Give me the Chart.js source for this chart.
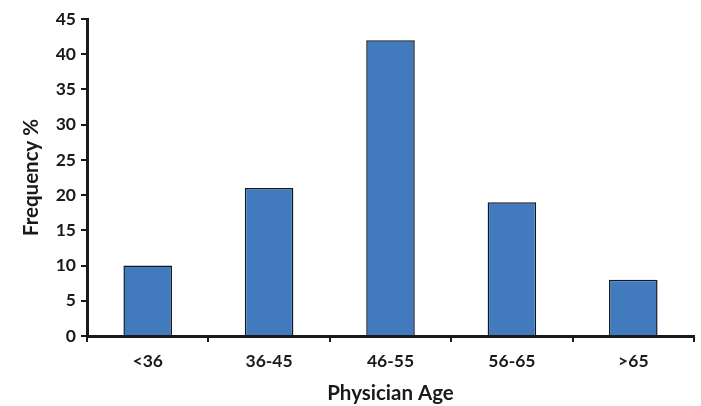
<!DOCTYPE html>
<html>
<head>
<meta charset="utf-8">
<script src="https://cdn.jsdelivr.net/npm/chart.js@4"></script>
<style>
  html, body { margin: 0; padding: 0; background: #fff; }
  #wrap { width: 701px; height: 406px; }
</style>
</head>
<body>
<div id="wrap"><canvas id="myChart"></canvas></div>
<script>
// categories and values
const ageGroups = ["<36", "36-45", "46-55", "56-65", ">65"];
const frequency = [10, 21, 42, 19, 8];
const yTicks = [0, 5, 10, 15, 20, 25, 30, 35, 40, 45];

// Lato is the closest installed font to the Calibri used in the original
const fontFamily = "Lato, 'Open Sans', sans-serif";

const ctx = document.getElementById("myChart");
const myChart = new Chart(ctx, {
	type: "bar",
	data: {
		labels: ageGroups,
		datasets: [
			{
				data: frequency,
				backgroundColor: "#417bbd",
				borderColor: "#111827",
				borderWidth: 1.5,
				barPercentage: 0.4,
				categoryPercentage: 1,
			},
		],
	},
	options: {
		responsive: true,
		maintainAspectRatio: false,
		animation: false,
		layout: {
			padding: { top: 19, right: 7, left: 19, bottom: 0 },
		},
		scales: {
			x: {
				grid: {
					offset: true,
					drawOnChartArea: false,
					drawTicks: true,
					tickLength: 6,
					color: "#1a1a1a",
					lineWidth: 2,
				},
				border: { display: true, color: "#1a1a1a", width: 3 },
				ticks: {
					color: "#1a1a1a",
					padding: 9,
					font: { family: fontFamily, size: 17.5, weight: "bold" },
				},
				title: {
					display: true,
					text: "Physician Age",
					color: "#1a1a1a",
					padding: { top: 6, bottom: 0 },
					font: { family: fontFamily, size: 20.5, weight: "bold" },
				},
				afterFit: (scale) => { scale.height = 70; },
			},
			y: {
				min: 0,
				max: 45,
				afterBuildTicks: (scale) => {
					scale.ticks = yTicks.map((v) => ({ value: v }));
				},
				grid: {
					drawOnChartArea: false,
					drawTicks: true,
					tickLength: 6,
					color: "#1a1a1a",
					lineWidth: 2,
				},
				border: { display: true, color: "#1a1a1a", width: 3 },
				ticks: {
					color: "#1a1a1a",
					padding: 5,
					font: { family: fontFamily, size: 17.5, weight: "bold" },
				},
				title: {
					display: true,
					text: "Frequency %",
					color: "#1a1a1a",
					padding: { top: 0, bottom: 4 },
					font: { family: fontFamily, size: 20.5, weight: "bold" },
				},
				afterFit: (scale) => { scale.width = 68; },
			},
		},
		plugins: {
			legend: { display: false },
			tooltip: { enabled: false },
		},
	},
});
</script>
</body>
</html>
